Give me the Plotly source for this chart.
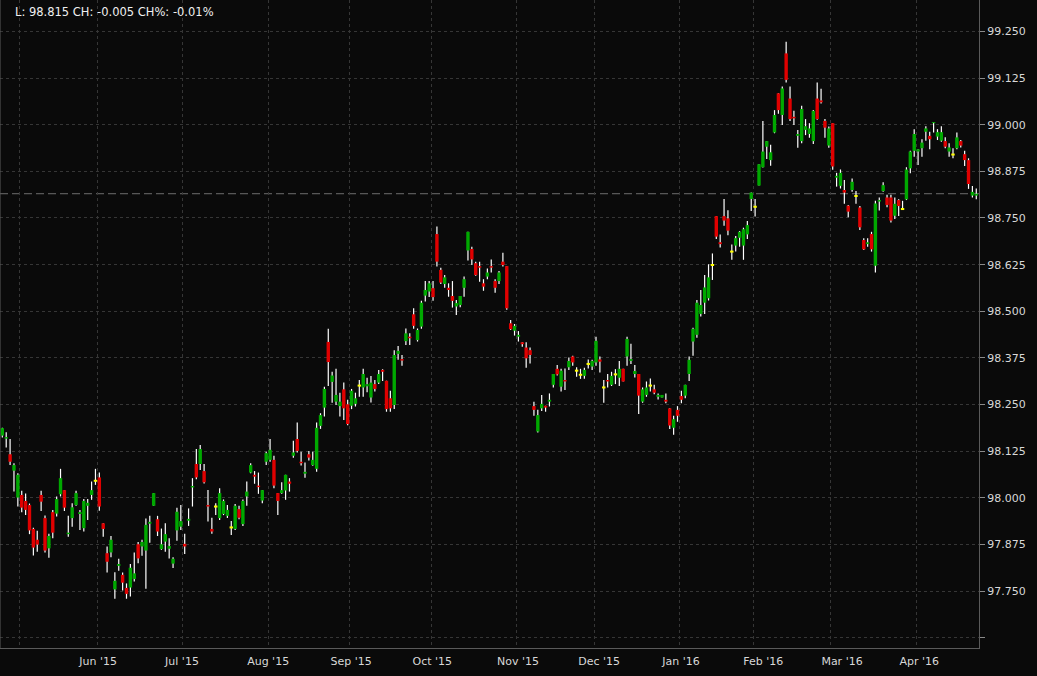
import plotly.graph_objects as go

# ---- OHLC data (daily, ~Apr 24 2015 .. Apr 22 2016) ----
open_ = [
    98.167, 98.159, 98.117, 98.073, 98.001, 98.008, 97.992, 97.981, 97.917, 97.888,
    98.008, 97.946, 97.865, 97.962, 97.958, 98.010, 98.021, 97.903, 97.946, 97.981,
    97.957, 97.919, 97.979, 98.008, 98.046, 98.055, 97.932, 97.852, 97.854, 97.755,
    97.818, 97.794, 97.759, 97.760, 97.783, 97.876, 97.870, 97.859, 97.931, 97.979,
    97.943, 97.863, 97.883, 97.864, 97.824, 97.913, 97.923, 97.877, 97.939, 98.028,
    98.091, 98.091, 98.072, 97.981, 97.917, 97.977, 97.946, 97.957, 97.952, 97.921,
    97.917, 97.970, 97.930, 98.004, 98.068, 98.062, 98.033, 97.993, 98.097, 98.102,
    98.102, 98.013, 98.013, 98.020, 98.044, 98.113, 98.158, 98.097, 98.065, 98.117,
    98.088, 98.078, 98.193, 98.242, 98.418, 98.311, 98.258, 98.246, 98.291, 98.251,
    98.247, 98.252, 98.301, 98.296, 98.299, 98.269, 98.305, 98.309, 98.343, 98.314,
    98.267, 98.249, 98.386, 98.372, 98.420, 98.432, 98.492, 98.423, 98.459, 98.542,
    98.553, 98.562, 98.707, 98.611, 98.573, 98.563, 98.541, 98.513, 98.517, 98.563,
    98.663, 98.667, 98.629, 98.621, 98.575, 98.593, 98.621, 98.581, 98.581, 98.633,
    98.621, 98.468, 98.448, 98.432, 98.417, 98.403, 98.396, 98.246, 98.178, 98.240,
    98.247, 98.258, 98.303, 98.346, 98.298, 98.316, 98.350, 98.379, 98.341, 98.330,
    98.327, 98.359, 98.352, 98.363, 98.371, 98.296, 98.316, 98.303, 98.331, 98.322,
    98.346, 98.379, 98.367, 98.332, 98.332, 98.258, 98.276, 98.301, 98.291, 98.271,
    98.269, 98.263, 98.240, 98.188, 98.236, 98.273, 98.274, 98.332, 98.419, 98.437,
    98.493, 98.523, 98.535, 98.624, 98.755, 98.685, 98.755, 98.749, 98.660, 98.676,
    98.697, 98.676, 98.706, 98.801, 98.780, 98.837, 98.886, 98.941, 98.905, 98.979,
    99.084, 99.026, 99.191, 99.070, 99.021, 98.970, 98.956, 98.986, 98.975, 98.956,
    99.070, 99.065, 99.010, 98.944, 99.004, 98.858, 98.836, 98.825, 98.783, 98.825,
    98.809, 98.778, 98.691, 98.680, 98.707, 98.622, 98.794, 98.822, 98.805, 98.805,
    98.756, 98.798, 98.774, 98.800, 98.883, 98.930, 98.928, 98.937, 98.981, 98.970,
    99.004, 98.968, 98.957, 98.956, 98.928, 98.920, 98.937, 98.956, 98.921, 98.905,
    98.810, 98.810,
]
high = [
    98.188, 98.176, 98.158, 98.093, 98.066, 98.019, 98.012, 97.985, 97.920, 97.912,
    98.019, 97.953, 97.904, 97.968, 98.004, 98.078, 98.021, 97.952, 97.986, 98.019,
    97.968, 97.997, 97.997, 98.044, 98.078, 98.068, 97.932, 97.870, 97.898, 97.801,
    97.837, 97.800, 97.771, 97.823, 97.854, 97.882, 97.888, 97.945, 97.952, 98.013,
    97.952, 97.918, 97.932, 97.892, 97.841, 97.974, 97.981, 97.904, 97.972, 98.053,
    98.131, 98.142, 98.091, 98.021, 97.947, 97.986, 98.026, 97.996, 97.981, 97.938,
    97.984, 97.979, 97.996, 98.044, 98.093, 98.072, 98.068, 98.021, 98.124, 98.158,
    98.113, 98.013, 98.042, 98.062, 98.053, 98.153, 98.202, 98.124, 98.095, 98.126,
    98.124, 98.202, 98.227, 98.298, 98.453, 98.338, 98.346, 98.282, 98.309, 98.263,
    98.292, 98.282, 98.316, 98.346, 98.322, 98.327, 98.316, 98.343, 98.345, 98.314,
    98.287, 98.396, 98.407, 98.383, 98.454, 98.441, 98.508, 98.454, 98.528, 98.581,
    98.581, 98.581, 98.727, 98.617, 98.597, 98.575, 98.581, 98.530, 98.541, 98.593,
    98.713, 98.673, 98.633, 98.633, 98.586, 98.615, 98.639, 98.586, 98.608, 98.657,
    98.621, 98.477, 98.466, 98.447, 98.417, 98.417, 98.403, 98.258, 98.236, 98.276,
    98.247, 98.280, 98.332, 98.356, 98.346, 98.347, 98.376, 98.381, 98.350, 98.346,
    98.349, 98.371, 98.370, 98.432, 98.379, 98.316, 98.332, 98.338, 98.345, 98.367,
    98.346, 98.432, 98.413, 98.356, 98.332, 98.296, 98.312, 98.320, 98.303, 98.280,
    98.276, 98.280, 98.240, 98.220, 98.246, 98.287, 98.303, 98.379, 98.456, 98.530,
    98.557, 98.597, 98.626, 98.655, 98.755, 98.706, 98.801, 98.771, 98.679, 98.702,
    98.715, 98.724, 98.742, 98.818, 98.801, 98.894, 99.010, 98.956, 98.946, 99.039,
    99.084, 99.102, 99.222, 99.102, 99.037, 98.986, 99.051, 99.015, 99.004, 99.039,
    99.113, 99.096, 99.015, 98.995, 99.004, 98.871, 98.880, 98.852, 98.785, 98.856,
    98.822, 98.782, 98.696, 98.696, 98.713, 98.796, 98.805, 98.846, 98.812, 98.812,
    98.805, 98.800, 98.796, 98.886, 98.930, 98.988, 98.934, 98.961, 98.996, 98.981,
    99.007, 98.988, 98.996, 98.966, 98.950, 98.937, 98.979, 98.959, 98.930, 98.910,
    98.836, 98.829,
]
low = [
    98.162, 98.135, 98.088, 98.017, 97.977, 97.962, 97.954, 97.903, 97.846, 97.856,
    97.965, 97.854, 97.840, 97.892, 97.950, 98.004, 97.965, 97.896, 97.923, 97.979,
    97.914, 97.910, 97.941, 97.995, 98.035, 97.966, 97.896, 97.800, 97.841, 97.730,
    97.805, 97.752, 97.730, 97.736, 97.776, 97.825, 97.845, 97.757, 97.880, 97.979,
    97.898, 97.861, 97.856, 97.838, 97.812, 97.885, 97.914, 97.850, 97.925, 97.977,
    98.050, 98.075, 98.039, 97.937, 97.904, 97.954, 97.941, 97.954, 97.946, 97.901,
    97.914, 97.943, 97.925, 97.979, 98.066, 98.038, 98.011, 97.986, 98.088, 98.097,
    98.026, 97.954, 98.011, 97.995, 98.017, 98.108, 98.122, 98.087, 98.054, 98.100,
    98.086, 98.070, 98.185, 98.218, 98.300, 98.255, 98.249, 98.218, 98.209, 98.195,
    98.238, 98.245, 98.271, 98.271, 98.283, 98.256, 98.285, 98.305, 98.313, 98.231,
    98.231, 98.238, 98.370, 98.354, 98.410, 98.410, 98.453, 98.419, 98.453, 98.526,
    98.538, 98.528, 98.620, 98.573, 98.563, 98.539, 98.510, 98.490, 98.511, 98.539,
    98.636, 98.624, 98.595, 98.579, 98.555, 98.586, 98.604, 98.550, 98.573, 98.620,
    98.504, 98.450, 98.435, 98.419, 98.405, 98.349, 98.360, 98.220, 98.175, 98.233,
    98.231, 98.245, 98.296, 98.328, 98.285, 98.289, 98.343, 98.354, 98.325, 98.319,
    98.319, 98.347, 98.343, 98.354, 98.336, 98.255, 98.296, 98.300, 98.305, 98.300,
    98.312, 98.354, 98.359, 98.323, 98.225, 98.255, 98.271, 98.285, 98.278, 98.264,
    98.269, 98.254, 98.185, 98.169, 98.204, 98.254, 98.267, 98.313, 98.381, 98.429,
    98.486, 98.493, 98.529, 98.584, 98.694, 98.671, 98.729, 98.704, 98.638, 98.660,
    98.673, 98.638, 98.694, 98.769, 98.754, 98.837, 98.885, 98.908, 98.890, 98.977,
    99.029, 98.999, 99.113, 99.010, 98.999, 98.938, 98.950, 98.972, 98.965, 98.948,
    99.013, 99.057, 98.965, 98.938, 98.879, 98.834, 98.829, 98.788, 98.752, 98.820,
    98.788, 98.718, 98.664, 98.673, 98.660, 98.604, 98.770, 98.820, 98.779, 98.738,
    98.747, 98.755, 98.773, 98.798, 98.870, 98.914, 98.892, 98.914, 98.957, 98.934,
    98.979, 98.959, 98.954, 98.937, 98.914, 98.910, 98.934, 98.939, 98.889, 98.828,
    98.805, 98.800,
]
close = [
    98.187, 98.163, 98.097, 98.088, 98.062, 97.974, 97.968, 97.913, 97.867, 97.875,
    97.990, 97.859, 97.898, 97.907, 97.997, 98.053, 97.974, 97.907, 97.975, 98.013,
    97.962, 97.992, 97.987, 98.021, 98.046, 97.977, 97.917, 97.829, 97.888, 97.778,
    97.823, 97.773, 97.743, 97.813, 97.798, 97.838, 97.882, 97.928, 97.936, 98.013,
    97.910, 97.876, 97.903, 97.871, 97.837, 97.963, 97.938, 97.870, 97.944, 98.032,
    98.055, 98.131, 98.042, 97.977, 97.910, 97.977, 98.013, 97.992, 97.968, 97.921,
    97.979, 97.947, 97.992, 98.017, 98.088, 98.057, 98.029, 98.021, 98.120, 98.129,
    98.033, 97.992, 98.021, 98.062, 98.038, 98.122, 98.126, 98.093, 98.070, 98.108,
    98.102, 98.188, 98.222, 98.292, 98.364, 98.328, 98.276, 98.258, 98.240, 98.198,
    98.287, 98.267, 98.301, 98.332, 98.305, 98.309, 98.292, 98.332, 98.338, 98.238,
    98.240, 98.383, 98.394, 98.368, 98.441, 98.428, 98.461, 98.450, 98.523, 98.557,
    98.575, 98.538, 98.633, 98.577, 98.591, 98.557, 98.528, 98.522, 98.541, 98.586,
    98.713, 98.639, 98.597, 98.617, 98.566, 98.604, 98.617, 98.563, 98.604, 98.624,
    98.508, 98.452, 98.461, 98.437, 98.412, 98.374, 98.383, 98.236, 98.222, 98.252,
    98.242, 98.263, 98.332, 98.331, 98.341, 98.312, 98.367, 98.363, 98.341, 98.330,
    98.343, 98.359, 98.367, 98.421, 98.365, 98.296, 98.312, 98.327, 98.331, 98.346,
    98.312, 98.426, 98.372, 98.340, 98.274, 98.291, 98.296, 98.301, 98.282, 98.276,
    98.276, 98.258, 98.194, 98.211, 98.220, 98.263, 98.303, 98.370, 98.453, 98.523,
    98.517, 98.564, 98.591, 98.624, 98.700, 98.680, 98.743, 98.716, 98.660, 98.696,
    98.713, 98.720, 98.731, 98.818, 98.780, 98.894, 98.928, 98.956, 98.926, 99.026,
    99.039, 99.097, 99.120, 99.015, 99.017, 98.975, 99.042, 98.996, 98.990, 99.037,
    99.015, 99.060, 98.992, 98.990, 98.888, 98.863, 98.871, 98.818, 98.767, 98.847,
    98.809, 98.725, 98.666, 98.685, 98.666, 98.789, 98.798, 98.838, 98.785, 98.743,
    98.788, 98.782, 98.774, 98.880, 98.928, 98.975, 98.934, 98.952, 98.990, 98.961,
    99.007, 98.980, 98.980, 98.941, 98.939, 98.920, 98.966, 98.944, 98.905, 98.841,
    98.820, 98.815,
]

# x-axis: month labels and their positions (in candle units), month boundaries
month_labels = ["Jun '15", "Jul '15", "Aug '15", "Sep '15", "Oct '15", "Nov '15",
                "Dec '15", "Jan '16", "Feb '16", "Mar '16", "Apr '16"]
month_label_pos = [24.7, 46.3, 68.5, 89.9, 110.8, 132.9, 153.8, 174.9, 196.1, 216.4, 236.3]
month_start_idx = [5, 25, 47, 69, 90, 111, 133, 153, 175, 194, 214, 236]

# y-axis ticks
y_ticks = [97.625, 97.75, 97.875, 98.0, 98.125, 98.25, 98.375, 98.5, 98.625,
           98.75, 98.875, 99.0, 99.125, 99.25]

GREEN = "#00a800"
RED = "#e00000"
YELLOW = "#ffff00"
BG = "#0a0a0a"
GRID = "#363636"
TXT = "#d8d8d8"

n = len(close)
idx = list(range(n))

# wick polyline (drawn first, bodies on top)
wx, wy = [], []
for i in idx:
    wx += [i, i, None]
    wy += [low[i], high[i], None]

# bodies grouped by colour, each as a thick vertical segment
groups = {GREEN: ([], []), RED: ([], []), YELLOW: ([], [])}
for i, o, c in zip(idx, open_, close):
    if abs(c - o) < 1e-9:
        col, y0, y1 = YELLOW, o - 0.0027, o + 0.0027
    else:
        col = GREEN if c > o else RED
        y0, y1 = min(o, c), max(o, c)
        if y1 - y0 < 0.003:
            mid = (y0 + y1) / 2
            y0, y1 = mid - 0.0015, mid + 0.0015
    gx, gy = groups[col]
    gx += [i, i, None]
    gy += [y0, y1, None]

fig = go.Figure()
fig.add_trace(go.Scatter(x=wx, y=wy, mode="lines",
                         line=dict(color="#ffffff", width=1.2),
                         hoverinfo="skip", showlegend=False))
for col, (gx, gy) in groups.items():
    fig.add_trace(go.Scatter(x=gx, y=gy, mode="lines",
                             line=dict(color=col, width=3.4),
                             hoverinfo="skip", showlegend=False))

last = close[-1]
ch = close[-1] - close[-2]
chp = ch / close[-2] * 100
header = f"L: {last:.3f} CH: {ch:.3f} CH%: {chp:.2f}%"

fig.update_layout(
    width=1037, height=676,
    margin=dict(l=0, r=58, t=0, b=28),
    paper_bgcolor=BG, plot_bgcolor=BG,
    showlegend=False,
    hovermode=False,
    font=dict(family="DejaVu Sans", size=11, color=TXT),
    xaxis=dict(
        range=[-0.6, 251.7],
        tickmode="array", tickvals=month_label_pos, ticktext=month_labels,
        showgrid=False, zeroline=False, ticks="",
        ticklabelstandoff=3,
        showline=True, linecolor="#5a5a5a", linewidth=1,
        tickfont=dict(size=11, color=TXT),
        minor=dict(tickmode="array", tickvals=[m - 0.5 for m in month_start_idx],
                   showgrid=True, gridcolor=GRID, griddash="3px,3px", gridwidth=1, ticks=""),
        fixedrange=True,
    ),
    yaxis=dict(
        side="right",
        range=[97.598, 99.334],
        tickmode="array", tickvals=y_ticks,
        ticktext=["" if v < 97.7 else f"{v:.3f}" for v in y_ticks],
        showgrid=True, gridcolor=GRID, griddash="3px,3px", gridwidth=1,
        zeroline=False, ticks="outside", ticklen=5, tickcolor="#8a8a8a",
        showline=True, linecolor="#5a5a5a", linewidth=1,
        tickfont=dict(size=11, color=TXT),
        fixedrange=True,
    ),
    shapes=[
        dict(type="line", xref="paper", yref="paper", x0=0, x1=0, y0=0, y1=1,
             line=dict(color="#5a5a5a", width=1)),
        dict(type="line", xref="paper", yref="y", x0=0, x1=1, y0=last, y1=last,
             line=dict(color="#6e6e6e", width=1, dash="8px,4px"), layer="below"),
    ],
    annotations=[
        dict(text=header, xref="paper", yref="paper", x=0, y=1,
             xanchor="left", yanchor="top", xshift=13, yshift=-3, showarrow=False,
             font=dict(family="DejaVu Sans", size=11.5, color="#f0f0f0")),
    ],
)

fig.write_html(
    "out.html",
    config={"displayModeBar": False},
    post_script="document.body.style.margin='0';document.body.style.background='#0a0a0a';"
                "document.body.style.overflow='hidden';",
)
